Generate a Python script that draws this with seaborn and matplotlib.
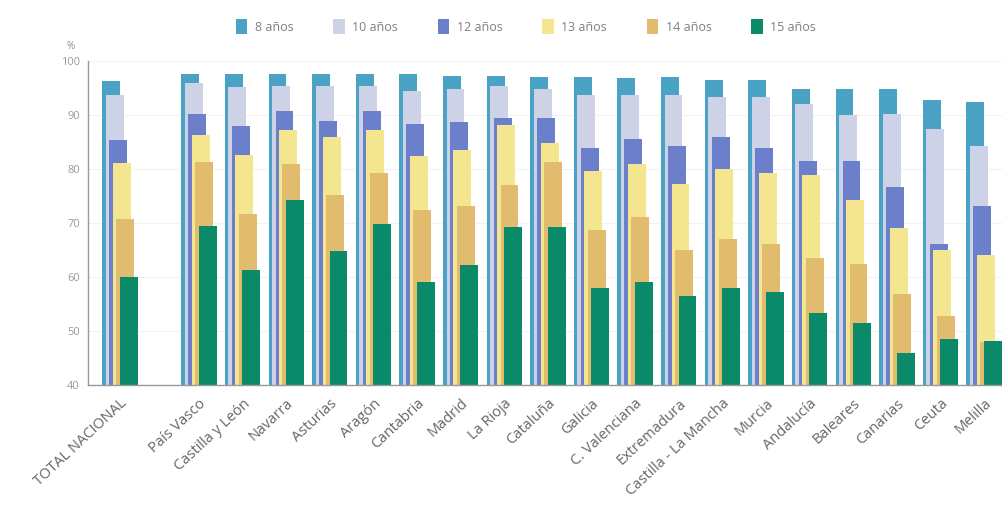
import numpy as np
import matplotlib.pyplot as plt
import seaborn as sns

# Porcentaje de alumnos que están en el curso que les corresponde, por edad
regions = ["TOTAL NACIONAL", "País Vasco", "Castilla y León", "Navarra", "Asturias",
           "Aragón", "Cantabria", "Madrid", "La Rioja", "Cataluña", "Galicia",
           "C. Valenciana", "Extremadura", "Castilla - La Mancha", "Murcia",
           "Andalucía", "Baleares", "Canarias", "Ceuta", "Melilla"]
ages = ["8 años", "10 años", "12 años", "13 años", "14 años", "15 años"]

v8 = [96.4, 97.7, 97.7, 97.7, 97.6, 97.6, 97.6, 97.2, 97.2, 97.0,
      97.0, 96.8, 97.0, 96.6, 96.6, 94.8, 94.8, 94.8, 92.8, 92.5]
v10 = [93.7, 96.0, 95.2, 95.4, 95.4, 95.4, 94.5, 94.8, 95.4, 94.8,
       93.7, 93.7, 93.7, 93.3, 93.3, 92.0, 90.0, 90.3, 87.5, 84.3]
v12 = [85.4, 90.3, 88.0, 90.8, 88.9, 90.8, 88.3, 88.8, 89.4, 89.4,
       84.0, 85.5, 84.3, 86.0, 84.0, 81.5, 81.5, 76.6, 66.1, 73.1]
v13 = [81.2, 86.3, 82.6, 87.3, 85.9, 87.2, 82.4, 83.6, 88.1, 84.9,
       79.6, 80.9, 77.3, 80.1, 79.2, 78.9, 74.3, 69.0, 65.0, 64.1]
v14 = [70.8, 81.4, 71.7, 81.0, 75.2, 79.2, 72.5, 73.1, 77.0, 81.4,
       68.8, 71.2, 65.1, 67.0, 66.2, 63.5, 62.5, 56.9, 52.8, 48.0]
v15 = [60.1, 69.5, 61.3, 74.3, 64.9, 69.9, 59.1, 62.2, 69.2, 69.2,
       58.0, 59.1, 56.4, 58.0, 57.3, 53.3, 51.4, 46.0, 48.6, 48.2]

series = [v8, v10, v12, v13, v14, v15]
colors = ["#4aa3c4", "#cdd2e6", "#6b7fcb", "#f3e68e", "#e2bc6e", "#0a8a68"]

sns.set_theme(style="white")
plt.rcParams["font.family"] = ["Open Sans", "DejaVu Sans"]

fig = plt.figure(figsize=(10.02, 5.14), dpi=100)
ax = fig.add_axes([0.088, 0.251, 0.912, 0.630])

centers = np.array([0.0] + [1.81 + i for i in range(len(regions) - 1)])
step = 0.08

for k, (age, vals, col) in enumerate(zip(ages, series, colors)):
    xs = centers + (k - 2.5) * step
    sns.barplot(x=xs, y=vals, color=col, width=0.41, native_scale=True,
                orient="x", errorbar=None, saturation=1, linewidth=0,
                label=age, ax=ax, legend=False)

ax.set_ylim(40, 100)
ax.set_xlim(-0.73, centers[-1] + 0.41)
ax.set_yticks(range(40, 101, 10))
ax.yaxis.grid(True, color="#f2f2f2", linewidth=0.8)
ax.set_axisbelow(True)
ax.tick_params(axis="y", labelsize=8, colors="#999999", length=0, pad=6)
ax.set_xticks(centers)
ax.set_xticklabels(regions, rotation=43, ha="right", rotation_mode="anchor",
                   fontsize=10.5, color="#666666")
ax.tick_params(axis="x", length=0, pad=8)
ax.set_xlabel("")
ax.set_ylabel("")
for side in ["top", "right"]:
    ax.spines[side].set_visible(False)
for side in ["left", "bottom"]:
    ax.spines[side].set_color("#9a9a9a")
    ax.spines[side].set_linewidth(1.0)

fig.text(0.066, 0.905, "%", fontsize=7, color="#8a8a8a")

handles, labels = ax.get_legend_handles_labels()
fig.legend(handles, labels, loc="upper center", bbox_to_anchor=(0.525, 0.985),
           ncol=6, frameon=False, fontsize=9, labelcolor="#808080",
           handlelength=0.9, handleheight=1.5, columnspacing=3.2, handletextpad=0.6)

fig.savefig("out.png", dpi=100, facecolor="white")
